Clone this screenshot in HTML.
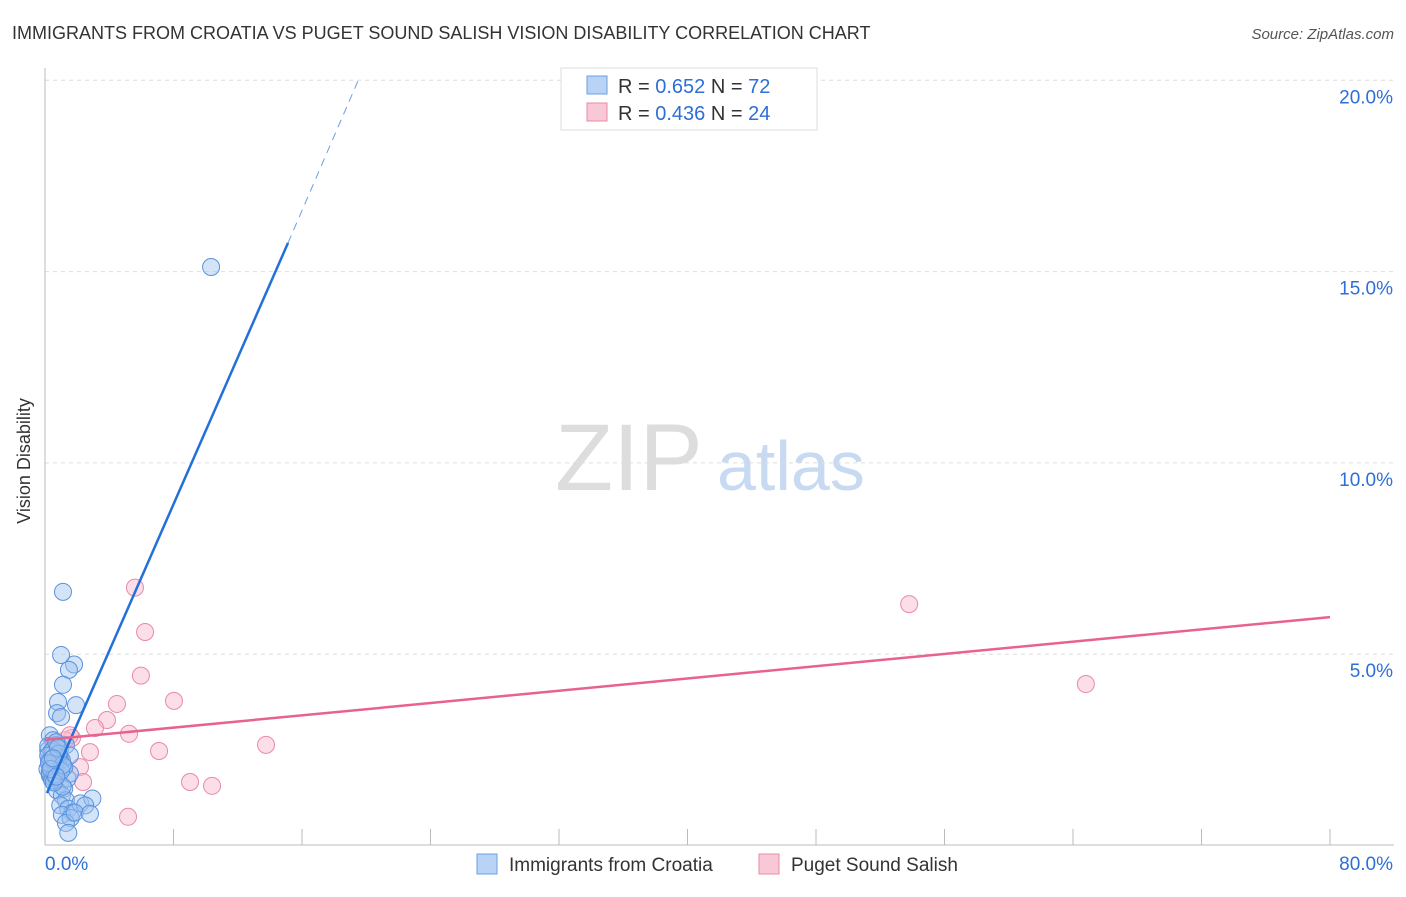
<!DOCTYPE html>
<html><head><meta charset="utf-8"><style>
body{margin:0;background:#fff;font-family:"Liberation Sans",sans-serif}
svg text{font-family:"Liberation Sans",sans-serif}
</style></head><body>
<svg id="c" width="1406" height="892">
<text x="12" y="39" font-size="18" fill="#333">IMMIGRANTS FROM CROATIA VS PUGET SOUND SALISH VISION DISABILITY CORRELATION CHART</text>
<text x="1394" y="39" font-size="15" fill="#555" font-style="italic" text-anchor="end">Source: ZipAtlas.com</text>
<text x="24" y="455" font-size="18" fill="#333" transform="rotate(-90 30 455)" text-anchor="middle">Vision Disability</text>
<g><text x="555" y="490" font-size="95" fill="#ddd" font-family="Liberation Serif">ZIP</text><text x="717" y="490" font-size="70" fill="#c8daf2">atlas</text></g>
<g id="grid"></g><g id="axes"></g><g id="pts"></g><g id="lines"></g>
<g>
<rect x="561" y="68" width="256" height="62" fill="#fff" stroke="#ddd"/>
<rect x="587" y="76" width="20" height="18" fill="#b8d3f5" stroke="#6a9fe0"/>
<text x="618" y="93" font-size="20" fill="#333">R = <tspan fill="#2d6fd6">0.652</tspan>   N = <tspan fill="#2d6fd6">72</tspan></text>
<rect x="587" y="103" width="20" height="18" fill="#f9c8d6" stroke="#e88aa6"/>
<text x="618" y="120" font-size="20" fill="#333">R = <tspan fill="#2d6fd6">0.436</tspan>   N = <tspan fill="#2d6fd6">24</tspan></text>
</g>
<g>
<rect x="477" y="854" width="20" height="20" fill="#b8d3f5" stroke="#6a9fe0"/>
<text x="509" y="871" font-size="19" fill="#333">Immigrants from Croatia</text>
<rect x="759" y="854" width="20" height="20" fill="#f9c8d6" stroke="#e88aa6"/>
<text x="791" y="871" font-size="19" fill="#333">Puget Sound Salish</text>
</g>
</svg>
<script>
const yTicks=[5,10,15,20];
const xTickLabels=["0.0%","80.0%"];
const blueX=[10.34,1.12,1.81,1.0,1.49,1.12,0.81,0.75,1.0,1.93,0.3,0.5,0.7,0.95,1.3,1.55,0.25,0.45,0.6,0.8,1.05,0.3,0.55,0.95,1.2,1.4,1.55,0.2,0.4,0.75,1.05,1.3,0.95,1.45,1.7,2.2,2.95,2.5,1.05,1.6,1.3,1.85,1.45,2.8,0.8,0.6,1.1,0.15,0.5,0.2,0.4,0.6,0.9,0.35,0.65,0.3,0.5,0.7,0.2,0.45,1.2,0.85,0.4,0.6,1.0,0.25,0.55,0.8,1.1,0.35,0.7,0.5];
const blueY=[15.12,6.63,4.73,4.98,4.59,4.2,3.75,3.46,3.36,3.67,2.88,2.75,2.62,2.54,2.62,2.35,2.23,2.1,2.02,1.91,2.23,1.83,1.75,1.62,1.49,1.75,1.88,2.49,1.79,1.44,1.31,1.18,1.05,0.96,0.86,1.1,1.23,1.05,0.8,0.72,0.59,0.86,0.33,0.83,2.3,2.4,1.54,2.0,2.15,2.6,2.45,1.95,2.3,2.05,2.2,1.9,2.5,2.7,2.35,1.7,2.05,2.4,2.25,1.85,1.95,2.15,1.65,2.55,2.1,2.0,1.8,2.28];
const pinkX=[5.6,6.23,5.97,8.03,4.48,3.86,3.11,5.23,1.68,2.8,7.1,13.76,2.18,2.37,9.03,10.4,5.17,53.8,64.8,0.6,0.95,0.3,1.25,1.55];
const pinkY=[6.74,5.58,4.44,3.78,3.7,3.28,3.07,2.92,2.81,2.44,2.47,2.63,2.05,1.66,1.66,1.56,0.75,6.31,4.22,2.63,2.23,1.96,2.75,2.88];
const blueLine=[[0.12,1.37],[15.13,15.75],[19.5,20.0]];
const pinkLine=[[0,2.76],[80,5.97]];
const X=v=>45+v*1285/80, Y=v=>845.5-v*38.26;
const NS="http://www.w3.org/2000/svg";
function mk(p,t,a){const e=document.createElementNS(NS,t);for(const k in a)e.setAttribute(k,a[k]);p.appendChild(e);return e;}
const grid=document.getElementById('grid'),axes=document.getElementById('axes'),pts=document.getElementById('pts'),lines=document.getElementById('lines');
yTicks.forEach(t=>{
 const l=mk(grid,'line',{x1:45,x2:1394,y1:Y(t),y2:Y(t),stroke:'#ddd','stroke-dasharray':'4,4'});
 
 
 const tx=mk(grid,'text',{x:1393,y:Y(t)+23,'font-size':19,fill:'#2d6fd6','text-anchor':'end'});
 tx.textContent=t.toFixed(1)+'%';
 
 
});
mk(axes,'line',{x1:45,x2:45,y1:68,y2:845,stroke:'#bbb'});
mk(axes,'line',{x1:45,x2:1394,y1:845,y2:845,stroke:'#bbb'});
for(let i=1;i<=10;i++){const t=mk(axes,'line',{x1:X(i*8),x2:X(i*8),y1:829,y2:845,stroke:'#bbb'});
 
 }
const xl0=mk(axes,'text',{x:45,y:870,'font-size':19,fill:'#2d6fd6'});xl0.textContent=xTickLabels[0];


const xl1=mk(axes,'text',{x:1393,y:870,'font-size':19,fill:'#2d6fd6','text-anchor':'end'});xl1.textContent=xTickLabels[1];


pinkX.forEach((v,i)=>{const c=mk(pts,'circle',{cx:X(v),cy:Y(pinkY[i]),r:8.5,fill:'rgba(248,190,208,0.5)',stroke:'#e88aa6','stroke-width':1});
 
 });
blueX.forEach((v,i)=>{const c=mk(pts,'circle',{cx:X(v),cy:Y(blueY[i]),r:8.5,fill:'rgba(160,196,240,0.45)',stroke:'#5a92dc','stroke-width':1});
 
 });
const bl=mk(lines,'line',{x1:X(blueLine[0][0]),y1:Y(blueLine[0][1]),x2:X(blueLine[1][0]),y2:Y(blueLine[1][1]),stroke:'#2370d8','stroke-width':2.5});


const bd=mk(lines,'line',{x1:X(blueLine[1][0]),y1:Y(blueLine[1][1]),x2:X(blueLine[2][0]),y2:Y(blueLine[2][1]),stroke:'#6a9fe0','stroke-width':1,'stroke-dasharray':'8,6'});


const pl=mk(lines,'line',{x1:X(pinkLine[0][0]),y1:Y(pinkLine[0][1]),x2:X(pinkLine[1][0]),y2:Y(pinkLine[1][1]),stroke:'#e8628e','stroke-width':2.5});


</script>
</body></html>
